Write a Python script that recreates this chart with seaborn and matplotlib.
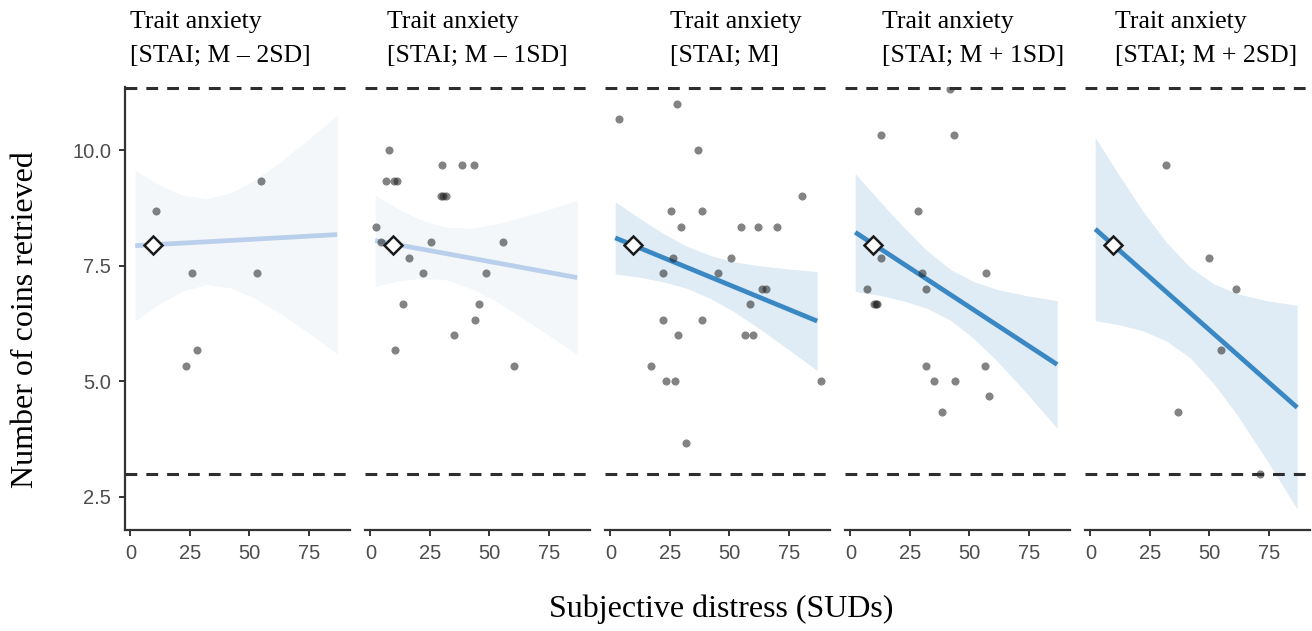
import numpy as np
import pandas as pd
import matplotlib
matplotlib.use("Agg")
import matplotlib.pyplot as plt
from matplotlib.ticker import FormatStrFormatter
import seaborn as sns

# ---- data -------------------------------------------------------------
title_top = "Trait anxiety"
title_bottom = ["[STAI; M – 2SD]", "[STAI; M – 1SD]", "[STAI; M]",
                "[STAI; M + 1SD]", "[STAI; M + 2SD]"]
significant = [False, False, True, True, True]

# observed participants per moderator level (SUDs, coins retrieved)
p1_x = [10.9, 55.0, 25.7, 53.2, 27.9, 23.3]
p1_y = [8.67, 9.33, 7.33, 7.33, 5.67, 5.33]

p2_x = [7.7, 6.5, 10.0, 11.0, 30.3, 38.4, 43.6, 29.8, 30.6, 31.6, 2.5, 4.6,
        25.5, 55.7, 16.1, 22.2, 48.8, 13.7, 45.6, 44.0, 35.3, 10.5, 60.4]
p2_y = [10.0, 9.33, 9.33, 9.33, 9.67, 9.67, 9.67, 9.0, 9.0, 9.0, 8.33, 8.0,
        8.0, 8.0, 7.67, 7.33, 7.33, 6.67, 6.67, 6.33, 6.0, 5.67, 5.33]

p3_x = [3.6, 28.2, 37.0, 80.6, 25.4, 38.7, 29.6, 55.1, 62.0, 70.1, 26.4, 50.9,
        22.2, 45.3, 63.8, 65.4, 58.6, 22.0, 38.7, 28.5, 56.5, 60.0, 17.0, 23.4,
        27.1, 88.6, 32.0]
p3_y = [10.67, 11.0, 10.0, 9.0, 8.67, 8.67, 8.33, 8.33, 8.33, 8.33, 7.67, 7.67,
        7.33, 7.33, 7.0, 7.0, 6.67, 6.33, 6.33, 6.0, 6.0, 6.0, 5.33, 5.0,
        5.0, 5.0, 3.67]

p4_x = [41.8, 13.0, 43.5, 28.5, 13.0, 29.9, 57.2, 6.9, 31.8, 10.0, 10.6, 11.2,
        31.8, 56.8, 35.1, 44.2, 58.2, 38.6]
p4_y = [11.33, 10.33, 10.33, 8.67, 7.67, 7.33, 7.33, 7.0, 7.0, 6.67, 6.67, 6.67,
        5.33, 5.33, 5.0, 5.0, 4.67, 4.33]

p5_x = [31.6, 50.1, 61.4, 54.8, 36.7, 71.5]
p5_y = [9.67, 7.67, 7.0, 5.67, 4.33, 3.0]

# simple-slope predictions (at the ends of the SUDs range)
fit_x = [2, 87]
fit_y = [[7.93, 8.17], [8.04, 7.24], [8.10, 6.30], [8.22, 5.36], [8.29, 4.43]]

# confidence band of each simple slope
band_x = [2, 12, 22, 32, 42, 52, 62, 74, 87]
band_hi = [[9.56, 9.25, 9.02, 8.95, 9.07, 9.34, 9.70, 10.19, 10.75],
           [9.02, 8.72, 8.47, 8.33, 8.31, 8.39, 8.52, 8.70, 8.91],
           [8.88, 8.53, 8.20, 7.92, 7.72, 7.58, 7.50, 7.43, 7.37],
           [9.49, 8.91, 8.35, 7.83, 7.42, 7.15, 6.98, 6.85, 6.74],
           [10.27, 9.46, 8.68, 8.00, 7.46, 7.10, 6.89, 6.74, 6.64]]
band_lo = [[6.30, 6.67, 6.95, 7.09, 7.02, 6.80, 6.50, 6.08, 5.59],
           [7.05, 7.17, 7.23, 7.19, 7.01, 6.75, 6.43, 6.03, 5.57],
           [7.32, 7.25, 7.15, 7.01, 6.79, 6.50, 6.16, 5.72, 5.23],
           [6.94, 6.86, 6.74, 6.58, 6.32, 5.92, 5.42, 4.75, 3.98],
           [6.31, 6.22, 6.09, 5.87, 5.50, 4.94, 4.25, 3.31, 2.23]]

# reference participant and chance / ceiling levels
ref_x, ref_y = 9.3, 7.95
ceiling_level = 11.333
floor_level = 3.0

y_ticks = [2.5, 5.0, 7.5, 10.0]
x_ticks = [0, 25, 50, 75]

# ---- styling ----------------------------------------------------------
sns.set_theme(style="ticks")
plt.rcParams["font.family"] = ["Liberation Sans", "DejaVu Sans"]
plt.rcParams["lines.scale_dashes"] = False

W, H = 1312, 631
fig = plt.figure(figsize=(W / 100, H / 100), dpi=100)
fig.patch.set_facecolor("white")

strong_line, strong_band = "#3a88c3", "#dfebf5"
weak_line, weak_band = "#b9cfeb", "#f3f7fa"
spine_col = "#333333"
tick_col = "#4d4d4d"
serif = ["Liberation Serif", "DejaVu Serif"]

points = [(p1_x, p1_y), (p2_x, p2_y), (p3_x, p3_y), (p4_x, p4_y), (p5_x, p5_y)]
lefts = [125, 365, 605, 845, 1085]
title_x = [130, 387, 670, 882, 1115]
ax_bottom, ax_top, ax_w = 530, 87, 225

for i in range(5):
    ax = fig.add_axes([lefts[i] / W, (H - ax_bottom) / H, ax_w / W,
                       (ax_bottom - ax_top) / H])
    line_c = strong_line if significant[i] else weak_line
    band_c = strong_band if significant[i] else weak_band

    ax.fill_between(band_x, band_lo[i], band_hi[i], color=band_c,
                    linewidth=0, zorder=1)
    sns.lineplot(x=fit_x, y=fit_y[i], ax=ax, color=line_c, linewidth=3.4,
                 solid_capstyle="butt", zorder=2)
    df = pd.DataFrame({"suds": points[i][0], "coins": points[i][1]})
    sns.scatterplot(data=df, x="suds", y="coins", ax=ax, color="#1e1e1e",
                    alpha=0.55, s=34, linewidth=0, zorder=3)
    ax.plot([ref_x], [ref_y], marker="D", markersize=9.5,
            markerfacecolor="white", markeredgecolor="#1a1a1a",
            markeredgewidth=1.8, linestyle="none", zorder=5)

    for lvl in (ceiling_level, floor_level):
        ax.axhline(lvl, color="#2e2e2e", linewidth=2.2,
                   linestyle=(0, (8.5, 6.5)), zorder=4)

    ax.set_xlim(-2.3, 92.4)
    ax.set_ylim(1.78, 11.363)
    ax.set_xticks(x_ticks)
    ax.set_yticks(y_ticks)
    ax.yaxis.set_major_formatter(FormatStrFormatter("%.1f"))
    ax.set_xlabel("")
    ax.set_ylabel("")
    ax.set_facecolor("none")

    for side in ("top", "right"):
        ax.spines[side].set_visible(False)
    ax.spines["bottom"].set_color(spine_col)
    ax.spines["bottom"].set_linewidth(1.6)
    ax.tick_params(axis="x", length=4, width=1.4, color=spine_col,
                   labelsize=14.5, labelcolor=tick_col, pad=6)
    if i == 0:
        ax.spines["left"].set_color(spine_col)
        ax.spines["left"].set_linewidth(1.6)
        ax.tick_params(axis="y", length=4, width=1.4, color=spine_col,
                       labelsize=14.5, labelcolor=tick_col, pad=6)
    else:
        ax.spines["left"].set_visible(False)
        ax.tick_params(axis="y", left=False, labelleft=False)

    fig.text(title_x[i] / W, (H - 28) / H, title_top, ha="left",
             va="baseline", fontsize=18.5, family=serif, color="black")
    fig.text(title_x[i] / W, (H - 62) / H, title_bottom[i], ha="left",
             va="baseline", fontsize=18.5, family=serif, color="black")

fig.text(26 / W, (H - 320) / H, "Number of coins retrieved", rotation=90,
         ha="center", va="center", fontsize=23, family=serif, color="black")
fig.text(721 / W, (H - 617) / H, "Subjective distress (SUDs)", ha="center",
         va="baseline", fontsize=23, family=serif, color="black")

fig.savefig("out.png", dpi=100, facecolor="white")
